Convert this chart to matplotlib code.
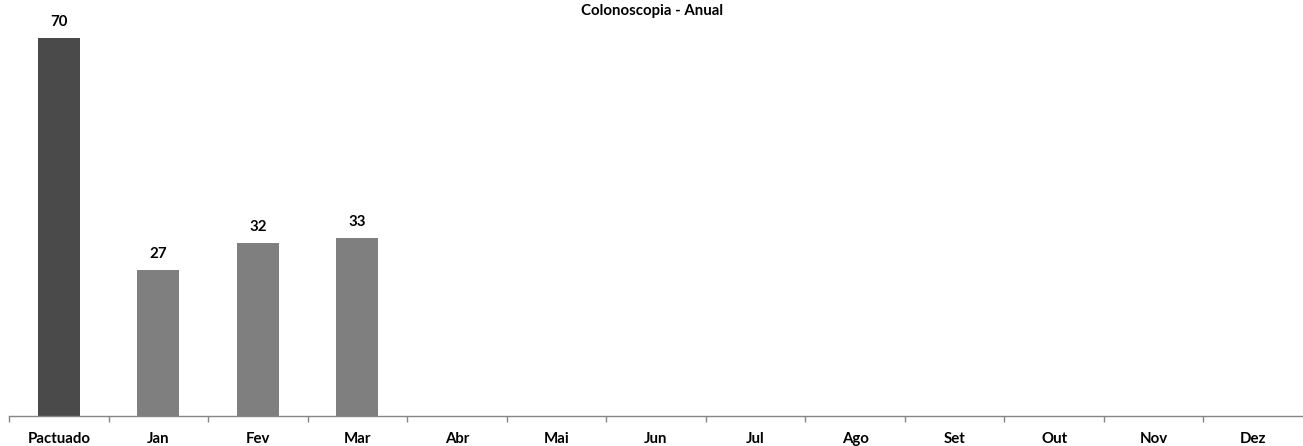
import matplotlib.pyplot as plt

categories = ["Pactuado", "Jan", "Fev", "Mar", "Abr", "Mai", "Jun", "Jul", "Ago", "Set", "Out", "Nov", "Dez"]
values = [70, 27, 32, 33, None, None, None, None, None, None, None, None, None]
title = "Colonoscopia - Anual"

plt.rcParams['font.family'] = ['Lato', 'DejaVu Sans']

fig = plt.figure(figsize=(13.03, 4.46), dpi=100)
ax = fig.add_axes([9 / 1303, 30 / 446, 1294 / 1303, 416 / 446])

xs = [i for i, v in enumerate(values) if v is not None]
vs = [v for v in values if v is not None]
colors = ["#4a4a4a" if i == 0 else "#7f7f7f" for i in xs]
bars = ax.bar(xs, vs, width=0.42, color=colors)
for x, v in zip(xs, vs):
    ax.annotate(str(v), (x, v), xytext=(0, 6.5), textcoords="offset points",
                ha="center", va="bottom", fontsize=10.8, fontweight="bold")

ax.set_xlim(-0.5, len(categories) - 0.5)
ax.set_ylim(0, 77)
ax.set_xticks(range(len(categories)))
ax.set_xticklabels(categories, fontsize=10.8, fontweight="bold")
ax.set_xticks([i - 0.5 for i in range(len(categories))], minor=True)
ax.tick_params(axis="x", which="major", length=0, pad=11.5)
ax.tick_params(axis="x", which="minor", length=4.5, color="#868686", width=1)
ax.set_yticks([])
for s in ["top", "right", "left"]:
    ax.spines[s].set_visible(False)
ax.spines["bottom"].set_color("#868686")
ax.spines["bottom"].set_linewidth(1)

fig.text(652 / 1303, 1 - 11 / 446, title, ha="center", va="center",
         fontsize=10.8, fontweight="bold")

fig.savefig("out.png", dpi=100)
